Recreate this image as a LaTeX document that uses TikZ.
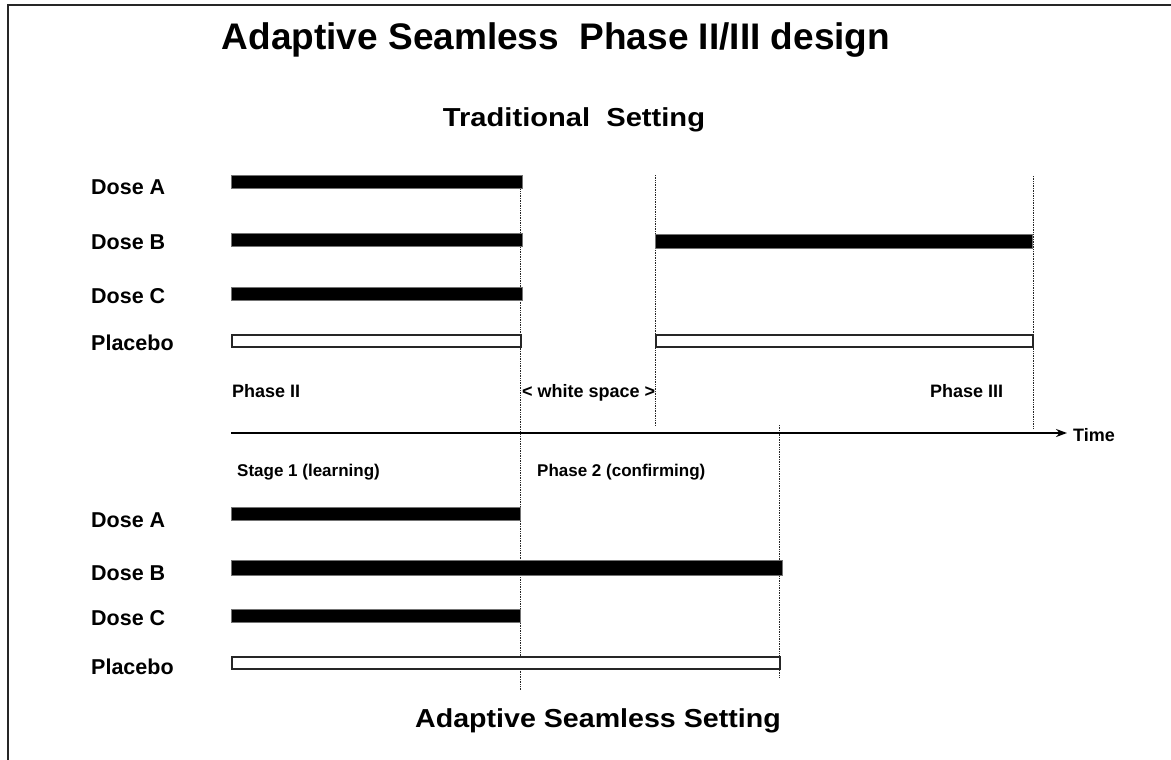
\documentclass[tikz,border=0pt]{standalone}
\usepackage{fontspec}
\usepackage{graphicx}
\setmainfont{Liberation Sans}
\usetikzlibrary{arrows.meta}
\begin{document}
\begin{tikzpicture}[x=1pt,y=-1pt,
  fullbar/.style={fill=black, draw=black!55, line width=0.6pt},
  emptybar/.style={fill=white, draw=black!85, line width=1.3pt},
  guide/.style={densely dotted, line width=0.7pt, draw=black!85},
  frameline/.style={line width=1.6pt, draw=black!85},
  axisline/.style={line width=2.6pt, -{Stealth[length=11pt,width=8pt]}},
  rowlbl/.style={font=\fontsize{21.5}{24}\selectfont\bfseries, anchor=base west, inner sep=0pt},
  smalllbl/.style={font=\fontsize{18}{20}\selectfont\bfseries, anchor=base west, inner sep=0pt},
  stagelbl/.style={font=\fontsize{17}{20}\selectfont\bfseries, anchor=base west, inner sep=0pt},
  heading/.style={font=\fontsize{26}{30}\selectfont\bfseries, inner sep=0pt}]
\useasboundingbox (0,0) rectangle (1171,760);
\fill[white] (0,0) rectangle (1171,760);
% frame
\draw[frameline] (8,760) -- (8,5) -- (1171,5);
% headings
\node[font=\fontsize{37}{40}\selectfont\bfseries, inner sep=0pt] (title) at (556,40) {Adaptive Seamless\ \ Phase II/III design};
\node[heading] (trad) at (574,120) {\scalebox{1.12}[1]{Traditional\ \ Setting}};
\node[heading] (adapt) at (598,721) {\scalebox{1.1}[1]{Adaptive Seamless Setting}};
% guide lines
\coordinate (g1t) at (520,186); \coordinate (g1b) at (520,690);
\coordinate (g2t) at (655,175); \coordinate (g2b) at (655,426);
\coordinate (g3t) at (1033,176); \coordinate (g3b) at (1033,428);
\coordinate (g4t) at (779,425); \coordinate (g4b) at (779,678);
\draw[guide] (g1t) -- (g1b);
\draw[guide] (g2t) -- (g2b);
\draw[guide] (g3t) -- (g3b);
\draw[guide] (g4t) -- (g4b);
% traditional bars
\draw[fullbar] (231,175) rectangle (522,188);
\draw[fullbar] (231,233) rectangle (522,246);
\draw[fullbar] (231,287) rectangle (522,300);
\draw[emptybar] (232,335) rectangle (521,347);
\draw[fullbar] (655,234) rectangle (1032,248);
\draw[emptybar] (656,335) rectangle (1033,347);
% seamless bars
\draw[fullbar] (231,507) rectangle (520,520);
\draw[fullbar] (231,560) rectangle (782,575);
\draw[fullbar] (231,609) rectangle (520,622);
\draw[emptybar] (232,657) rectangle (780,669);
% row labels
\node[rowlbl] (ta) at (91,194) {Dose A};
\node[rowlbl] (tb) at (91,249) {Dose B};
\node[rowlbl] (tc) at (91,303) {Dose C};
\node[rowlbl] (tp) at (91,350) {Placebo};
\node[rowlbl] (sa) at (91,527) {Dose A};
\node[rowlbl] (sb) at (91,580) {Dose B};
\node[rowlbl] (sc) at (91,625) {Dose C};
\node[rowlbl] (sp) at (91,674) {Placebo};
% phase labels
\node[smalllbl] (p2) at (232,397) {Phase II};
\node[smalllbl] (ws) at (522,397) {< white space >};
\node[smalllbl] (p3) at (930,397) {Phase III};
\node[stagelbl] (st1) at (237,476) {Stage 1 (learning)};
\node[stagelbl] (st2) at (537,476) {Phase 2 (confirming)};
% time axis
\coordinate (ax0) at (231,433);
\coordinate (ax1) at (1067,433);
\node[smalllbl] (time) at (1073,441) {Time};
\draw[axisline] (ax0) -- (ax1);
\end{tikzpicture}
\end{document}
